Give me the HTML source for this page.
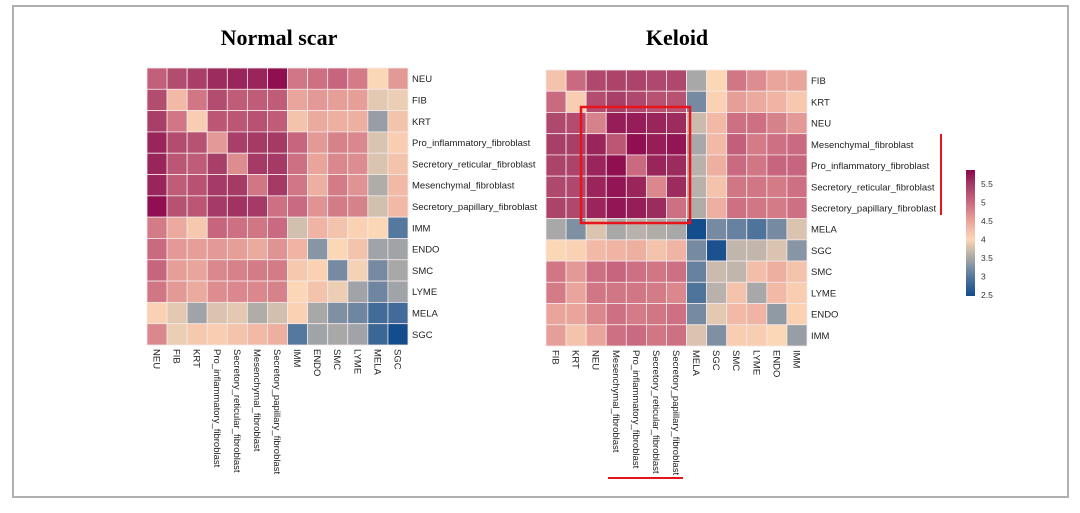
<!DOCTYPE html>
<html><head><meta charset="utf-8"><style>
body{margin:0;background:#fff;width:1080px;height:508px;overflow:hidden}
svg text{font-family:"Liberation Sans",sans-serif}
</style></head><body>
<svg id="s" width="1080" height="508">
<rect x="13" y="6" width="1055" height="491" fill="#fff" stroke="#b0b0b0" stroke-width="2"/>
<text x="279" y="45" text-anchor="middle" style="font-family:'Liberation Serif',serif;font-weight:bold;font-size:22px">Normal scar</text>
<text x="677" y="45" text-anchor="middle" style="font-family:'Liberation Serif',serif;font-weight:bold;font-size:22px">Keloid</text>
</svg>
<script>
const leftLabels=["NEU","FIB","KRT","Pro_inflammatory_fibroblast","Secretory_reticular_fibroblast","Mesenchymal_fibroblast","Secretory_papillary_fibroblast","IMM","ENDO","SMC","LYME","MELA","SGC"];
const leftValues=[
[5.1,5.3,5.45,5.6,5.65,5.65,5.8,4.9,4.95,5.05,4.85,4.0,4.6],
[5.3,4.3,4.9,5.3,5.15,5.15,5.15,4.5,4.6,4.55,4.55,3.85,3.9],
[5.45,4.9,4.1,5.2,5.2,5.25,5.15,4.2,4.45,4.4,4.4,3.4,4.2],
[5.65,5.3,5.25,4.6,5.45,5.5,5.5,5.05,4.6,4.8,4.75,3.8,4.1],
[5.65,5.2,5.15,5.45,4.7,5.5,5.5,4.95,4.5,4.75,4.7,3.8,4.2],
[5.65,5.15,5.25,5.5,5.5,4.9,5.5,4.9,4.4,4.85,4.65,3.55,4.3],
[5.8,5.25,5.2,5.5,5.55,5.5,4.95,5.0,4.65,4.85,4.8,3.75,4.3],
[4.85,4.45,4.15,5.05,4.95,4.9,5.0,3.75,4.35,4.2,4.05,4.0,3.0],
[5.0,4.6,4.55,4.6,4.55,4.45,4.65,4.35,3.3,4.0,4.2,3.45,3.45],
[5.05,4.55,4.5,4.75,4.8,4.85,4.85,4.15,4.05,3.2,3.95,3.2,3.5],
[4.9,4.6,4.45,4.7,4.75,4.75,4.8,4.0,4.2,3.9,3.45,3.15,3.45],
[4.05,3.85,3.45,3.8,3.85,3.55,3.75,4.05,3.5,3.25,3.15,2.85,2.85],
[4.75,3.9,4.15,4.1,4.2,4.3,4.4,3.0,3.45,3.5,3.45,2.8,2.5]];
const rightLabels=["FIB","KRT","NEU","Mesenchymal_fibroblast","Pro_inflammatory_fibroblast","Secretory_reticular_fibroblast","Secretory_papillary_fibroblast","MELA","SGC","SMC","LYME","ENDO","IMM"];
const rightValues=[
[4.2,5.0,5.35,5.4,5.4,5.35,5.35,3.5,4.0,4.9,4.7,4.5,4.5],
[5.0,4.1,5.3,5.45,5.35,5.25,5.25,3.2,4.05,4.55,4.45,4.35,4.15],
[5.35,5.3,4.8,5.7,5.7,5.65,5.6,3.7,4.3,4.95,4.95,4.8,4.6],
[5.45,5.45,5.65,5.2,5.8,5.7,5.75,3.5,4.3,5.1,4.85,4.95,5.0],
[5.4,5.4,5.65,5.8,5.0,5.65,5.6,3.6,4.4,5.0,4.9,5.05,5.05],
[5.35,5.35,5.65,5.75,5.65,4.75,5.6,3.6,4.2,4.9,4.9,4.85,4.95],
[5.4,5.35,5.65,5.75,5.7,5.6,4.95,3.55,4.4,4.95,4.9,4.85,4.95],
[3.5,3.25,3.8,3.5,3.6,3.55,3.5,2.5,3.2,3.1,2.95,3.2,3.8],
[4.0,4.05,4.3,4.35,4.4,4.2,4.35,3.2,2.55,3.65,3.65,3.8,3.3],
[4.9,4.6,4.95,5.05,4.95,4.9,4.95,3.1,3.7,3.65,4.25,4.4,4.2],
[4.85,4.5,4.9,4.9,4.9,4.85,4.75,2.95,3.6,4.2,3.5,4.3,4.1],
[4.5,4.5,4.75,4.95,4.85,4.9,4.95,3.2,3.85,4.3,4.35,3.35,4.05],
[4.55,4.2,4.5,4.95,5.0,4.9,4.95,3.8,3.25,4.1,4.1,4.0,3.4]];
const legendTicks=[5.5,5,4.5,4,3.5,3,2.5];
const stops=[[2.5,[20,77,140]],[3.0,[85,120,158]],[3.5,[168,168,168]],[4.0,[252,215,182]],[4.5,[233,165,155]],[5.0,[202,106,128]],[5.5,[164,58,101]],[5.85,[139,8,78]]];
function col(v){if(v<=stops[0][0])return rgb(stops[0][1]);for(let i=1;i<stops.length;i++){if(v<=stops[i][0]){const a=stops[i-1],b=stops[i],t=(v-a[0])/(b[0]-a[0]);return rgb(a[1].map((c,k)=>c+(b[1][k]-c)*t));}}return rgb(stops[stops.length-1][1]);}
function rgb(a){return `rgb(${a.map(Math.round).join(',')})`;}
const NS="http://www.w3.org/2000/svg",S=document.getElementById('s');
function mk(t,a){const e=document.createElementNS(NS,t);for(const k in a)e.setAttribute(k,a[k]);S.appendChild(e);return e;}
function heat(vals,labels,x0,y0,x1,y1,pfx){
 const n=labels.length,cw=(x1-x0)/n,ch=(y1-y0)/n;
 vals.forEach((row,r)=>row.forEach((v,c)=>{
  const e=mk('rect',{x:x0+c*cw,y:y0+r*ch,width:cw,height:ch,fill:col(v),stroke:'#f4e8e8','stroke-width':0.8});
  
  
 }));
 labels.forEach((l,i)=>{
  const t=mk('text',{x:x1+4,y:y0+i*ch+ch/2+3.5,'font-size':9.5,fill:'#222'});t.textContent=l;
  
  
  const cx=x0+i*cw+cw/2-3.5;
  const u=mk('text',{x:cx,y:y1+4,'font-size':9.5,fill:'#222',transform:`rotate(90 ${cx} ${y1+4})`});u.textContent=l;
  
  
 });
}
heat(leftValues,leftLabels,147,68,408,345,'normal');
heat(rightValues,rightLabels,546,70,807,346,'keloid');
// legend
const lg=document.createElementNS(NS,'linearGradient');lg.setAttribute('id','g');lg.setAttribute('x1',0);lg.setAttribute('y1',1);lg.setAttribute('x2',0);lg.setAttribute('y2',0);
for(let i=0;i<=20;i++){const v=2.47+(5.88-2.47)*i/20;const st=document.createElementNS(NS,'stop');st.setAttribute('offset',i/20);st.setAttribute('stop-color',col(v));lg.appendChild(st);}
const defs=document.createElementNS(NS,'defs');defs.appendChild(lg);S.appendChild(defs);
const lb=mk('rect',{x:966,y:170,width:9,height:126,fill:'url(#g)'});


legendTicks.forEach(v=>{const y=184+(5.5-v)*37;const t=mk('text',{x:981,y:y+3,'font-size':8.5,fill:'#333'});t.textContent=v;
 
 });
const rb=mk('rect',{x:581,y:107,width:109,height:116,fill:'none',stroke:'#e8141b','stroke-width':2.5});


const l1=mk('line',{x1:941,y1:134,x2:941,y2:215,stroke:'#e8141b','stroke-width':2});


const l2=mk('line',{x1:608,y1:478,x2:683,y2:478,stroke:'#e8141b','stroke-width':2});


</script>
</body></html>
